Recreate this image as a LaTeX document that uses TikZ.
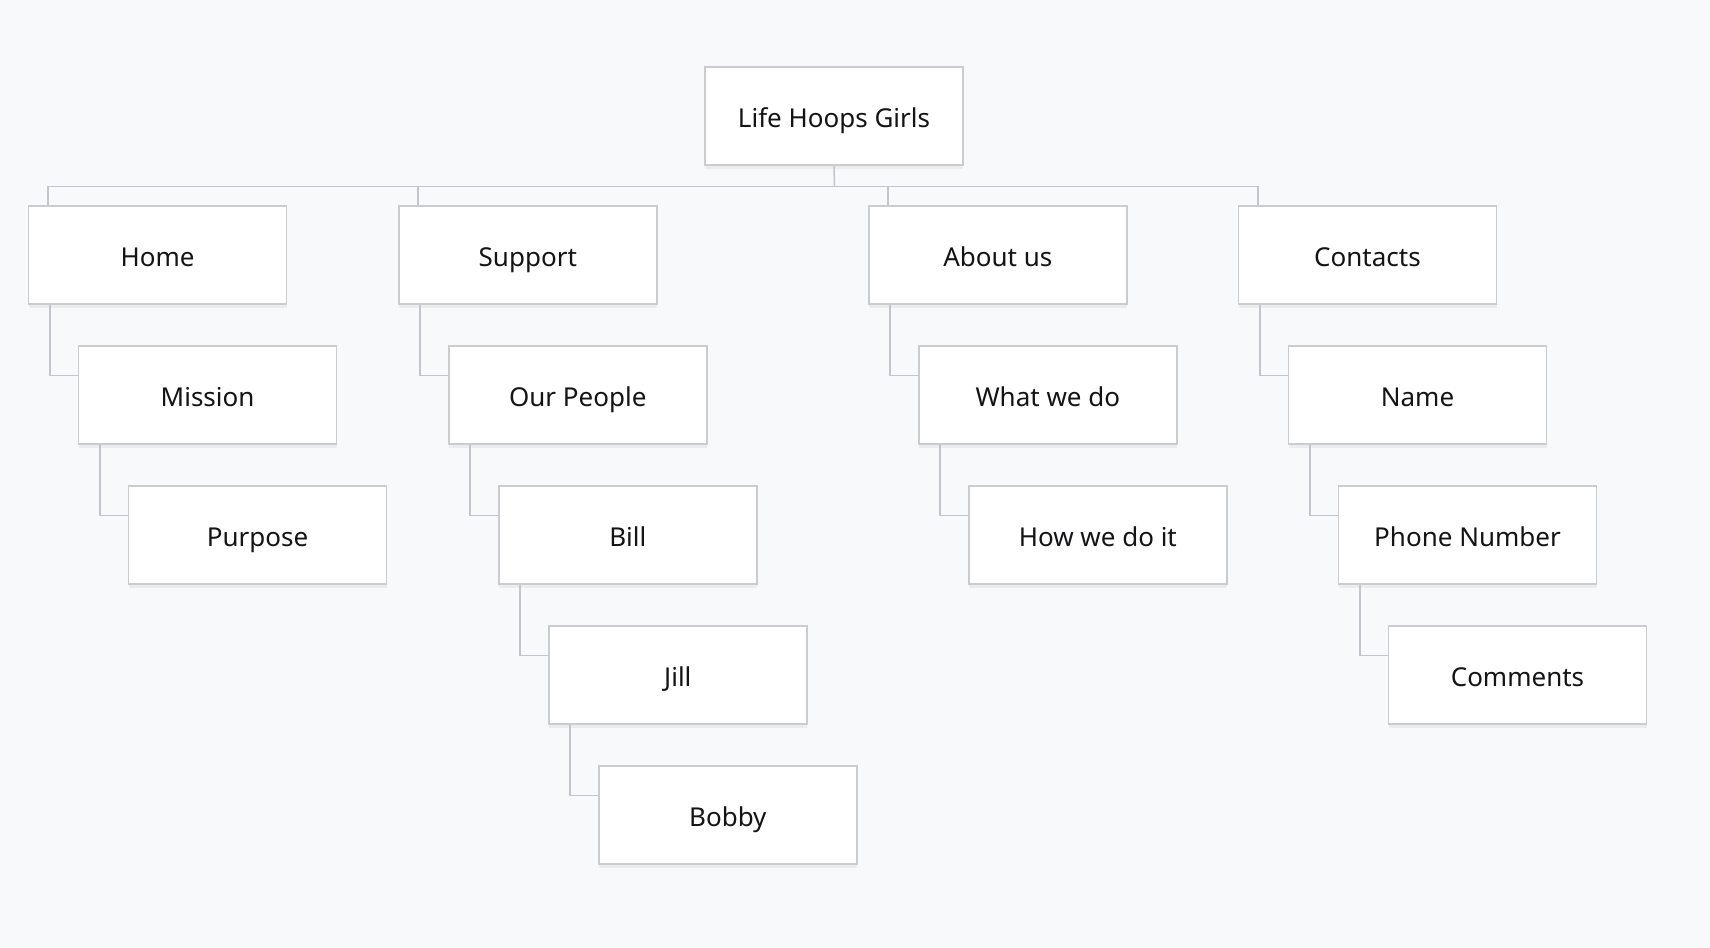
\documentclass[tikz,border=0pt]{standalone}
\usepackage{fontspec}
\setmainfont{Noto Sans}
\usetikzlibrary{shadows}
\definecolor{bg}{RGB}{248,249,251}
\definecolor{edge}{RGB}{204,204,206}
\definecolor{wire}{RGB}{196,197,201}
\definecolor{ink}{RGB}{20,20,22}

\begin{document}
\begin{tikzpicture}[x=0.5pt,y=0.5pt,yscale=-1,
	every node/.style={font=\fontsize{13}{16}\selectfont,text=ink},
	page/.style={draw=edge,line width=0.75pt,fill=white,minimum width=129pt,minimum height=49pt,inner sep=0pt,
		text height=11.5pt,text depth=0pt,
		drop shadow={shadow xshift=0pt,shadow yshift=-2pt,opacity=0.05,fill=black}},
	link/.style={draw=wire,line width=0.75pt}]
			\fill[bg] (0,0) rectangle (1710,948);
			\useasboundingbox (0,0) rectangle (1710,948);
			
			\node[page] (root) at (834,116) {Life Hoops Girls};
			
			\node[page] (home) at (157.6,255) {Home};
			\node[page] (support) at (527.8,255) {Support};
			\node[page] (about) at (997.8,255) {About us};
			\node[page] (contacts) at (1367.5,255) {Contacts};
			
			\node[page] (mission) at (207.6,395) {Mission};
			\node[page] (purpose) at (257.6,535) {Purpose};
			
			\node[page] (people) at (577.8,395) {Our People};
			\node[page] (bill) at (627.8,535) {Bill};
			\node[page] (jill) at (677.8,675) {Jill};
			\node[page] (bobby) at (727.8,815) {Bobby};
			
			\node[page] (what) at (1047.8,395) {What we do};
			\node[page] (how) at (1097.8,535) {How we do it};
			
			\node[page] (name) at (1417.5,395) {Name};
			\node[page] (phone) at (1467.5,535) {Phone Number};
			\node[page] (comments) at (1517.5,675) {Comments};
			
			% bus from the root to the four sections
			\coordinate (bus) at (834.5,186.5);
			\draw[link] (root.south) -- (bus);
			\foreach \n in {home,support,about,contacts}
				\draw[link] ([xshift=10pt]\n.north west) |- (bus);
			% elbows down each column
			\foreach \p/\c in {home/mission,mission/purpose,support/people,people/bill,bill/jill,jill/bobby,about/what,what/how,contacts/name,name/phone,phone/comments}
				\draw[link] ([xshift=11pt]\p.south west) |- ([yshift=15pt]\c.north west);
			\end{tikzpicture}
\end{document}
